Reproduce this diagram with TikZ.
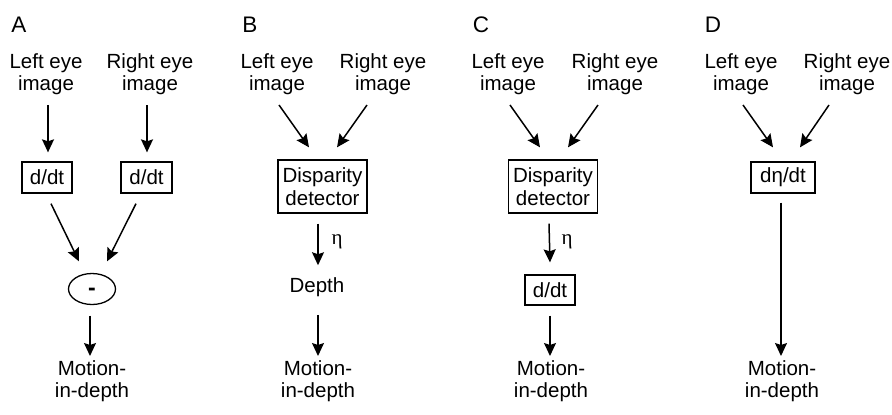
\documentclass[tikz,border=0pt]{standalone}
\usepackage{fontspec}
\setmainfont{Liberation Sans}
\newfontfamily\etafont{Liberation Serif}
\usetikzlibrary{arrows.meta,shapes.geometric,calc}
\tikzset{
  txt/.style={font=\fontsize{20.5}{22.5}\selectfont, align=center, inner sep=0pt},
  panel/.style={font=\fontsize{22.5}{24}\selectfont, inner sep=0pt},
  boxnode/.style={draw, line width=1.3pt, font=\fontsize{20.5}{22.5}\selectfont, align=center, inner sep=0pt, minimum height=31pt},
  ellnode/.style={draw, ellipse, line width=1.3pt, inner sep=0pt, minimum width=47pt, minimum height=31pt, font=\fontsize{23}{23}\selectfont\bfseries},
  etalab/.style={font=\etafont\fontsize{21}{22}\selectfont, inner sep=0pt},
  arr/.style={line width=1.5pt, -{Stealth[length=13pt,width=12pt,inset=2pt]}}
}
\begin{document}
\begin{tikzpicture}[x=1pt,y=-1pt]
\useasboundingbox (0,0) rectangle (892,415);
% ---------- Panel A ----------
\node[panel] (lA) at (19,25) {A};
\node[txt] (eLA) at (46,74) {Left eye\\image};
\node[txt] (eRA) at (150,74) {Right eye\\image};
\node[boxnode, minimum width=50pt] (dA1) at (47,177.5) {d/dt};
\node[boxnode, minimum width=51pt] (dA2) at (146.5,177.5) {d/dt};
\node[ellnode] (E) at (92,289) {\smash{\raisebox{-6pt}{-}}};
\node[txt, anchor=north] (mA) at (92,360) {Motion-\\in-depth};
\draw[arr] ($(eLA.south)+(2,10)$) -- ($(dA1.north)+(1,-9)$);
\draw[arr] ($(eRA.south)+(-3,10)$) -- ($(dA2.north)+(0.5,-9)$);
\draw[arr] ($(dA1.south)+(4,10)$) -- ($(E.north)+(-13,-11.5)$);
\draw[arr] ($(dA2.south)+(-10.5,10)$) -- ($(E.north)+(15,-11.5)$);
\draw[arr] ($(E.south)+(-2,10.5)$) -- ($(mA.north)+(-2,-4)$);
% ---------- Panel B ----------
\node[panel] (lB) at (250,25) {B};
\node[txt] (eLB) at (277,74) {Left eye\\image};
\node[txt] (eRB) at (383,74) {Right eye\\image};
\node[boxnode, minimum width=89pt, minimum height=53pt] (DB) at (322.5,186.5) {Disparity\\detector};
\node[etalab] (etaB) at (337,242) {η};
\node[txt] (depthB) at (317,287) {Depth};
\node[txt, anchor=north] (mB) at (318,360) {Motion-\\in-depth};
\draw[arr] ($(eLB.south)+(2,10)$) -- ($(DB.north)+(-13.5,-12)$);
\draw[arr] ($(eRB.south)+(-16,10)$) -- ($(DB.north)+(14.5,-12)$);
\draw[arr] ($(DB.south)+(-4.5,10)$) -- ($(depthB.north)+(1,-12)$);
\draw[arr] ($(depthB.south)+(1,18)$) -- ($(mB.north)+(0,-4)$);
% ---------- Panel C ----------
\node[panel] (lC) at (481,25) {C};
\node[txt] (eLC) at (508,74) {Left eye\\image};
\node[txt] (eRC) at (615,74) {Right eye\\image};
\node[boxnode, minimum width=89pt, minimum height=53pt] (DC) at (553,186.5) {Disparity\\detector};
\node[etalab] (etaC) at (567,242) {η};
\node[boxnode, minimum width=50pt, minimum height=30pt] (dC) at (550,290) {d/dt};
\node[txt, anchor=north] (mC) at (551,360) {Motion-\\in-depth};
\draw[arr] ($(eLC.south)+(2,10)$) -- ($(DC.north)+(-13,-12)$);
\draw[arr] ($(eRC.south)+(-17,10)$) -- ($(DC.north)+(15,-12)$);
\draw[arr] ($(DC.south)+(-4,10)$) -- ($(dC.north)+(0,-12)$);
\draw[arr] ($(dC.south)+(0,10)$) -- ($(mC.north)+(-1,-4)$);
% ---------- Panel D ----------
\node[panel] (lD) at (713,25) {D};
\node[txt] (eLD) at (741,74) {Left eye\\image};
\node[txt] (eRD) at (847,74) {Right eye\\image};
\node[boxnode, minimum width=64pt] (dD) at (783,177.5) {dη/dt};
\node[txt, anchor=north] (mD) at (782,360) {Motion-\\in-depth};
\draw[arr] ($(eLD.south)+(2,10)$) -- ($(dD.north)+(-10,-14)$);
\draw[arr] ($(eRD.south)+(-18,10)$) -- ($(dD.north)+(17,-14)$);
\draw[arr] ($(dD.south)+(-2,9)$) -- ($(mD.north)+(-1,-4)$);
\end{tikzpicture}
\end{document}
